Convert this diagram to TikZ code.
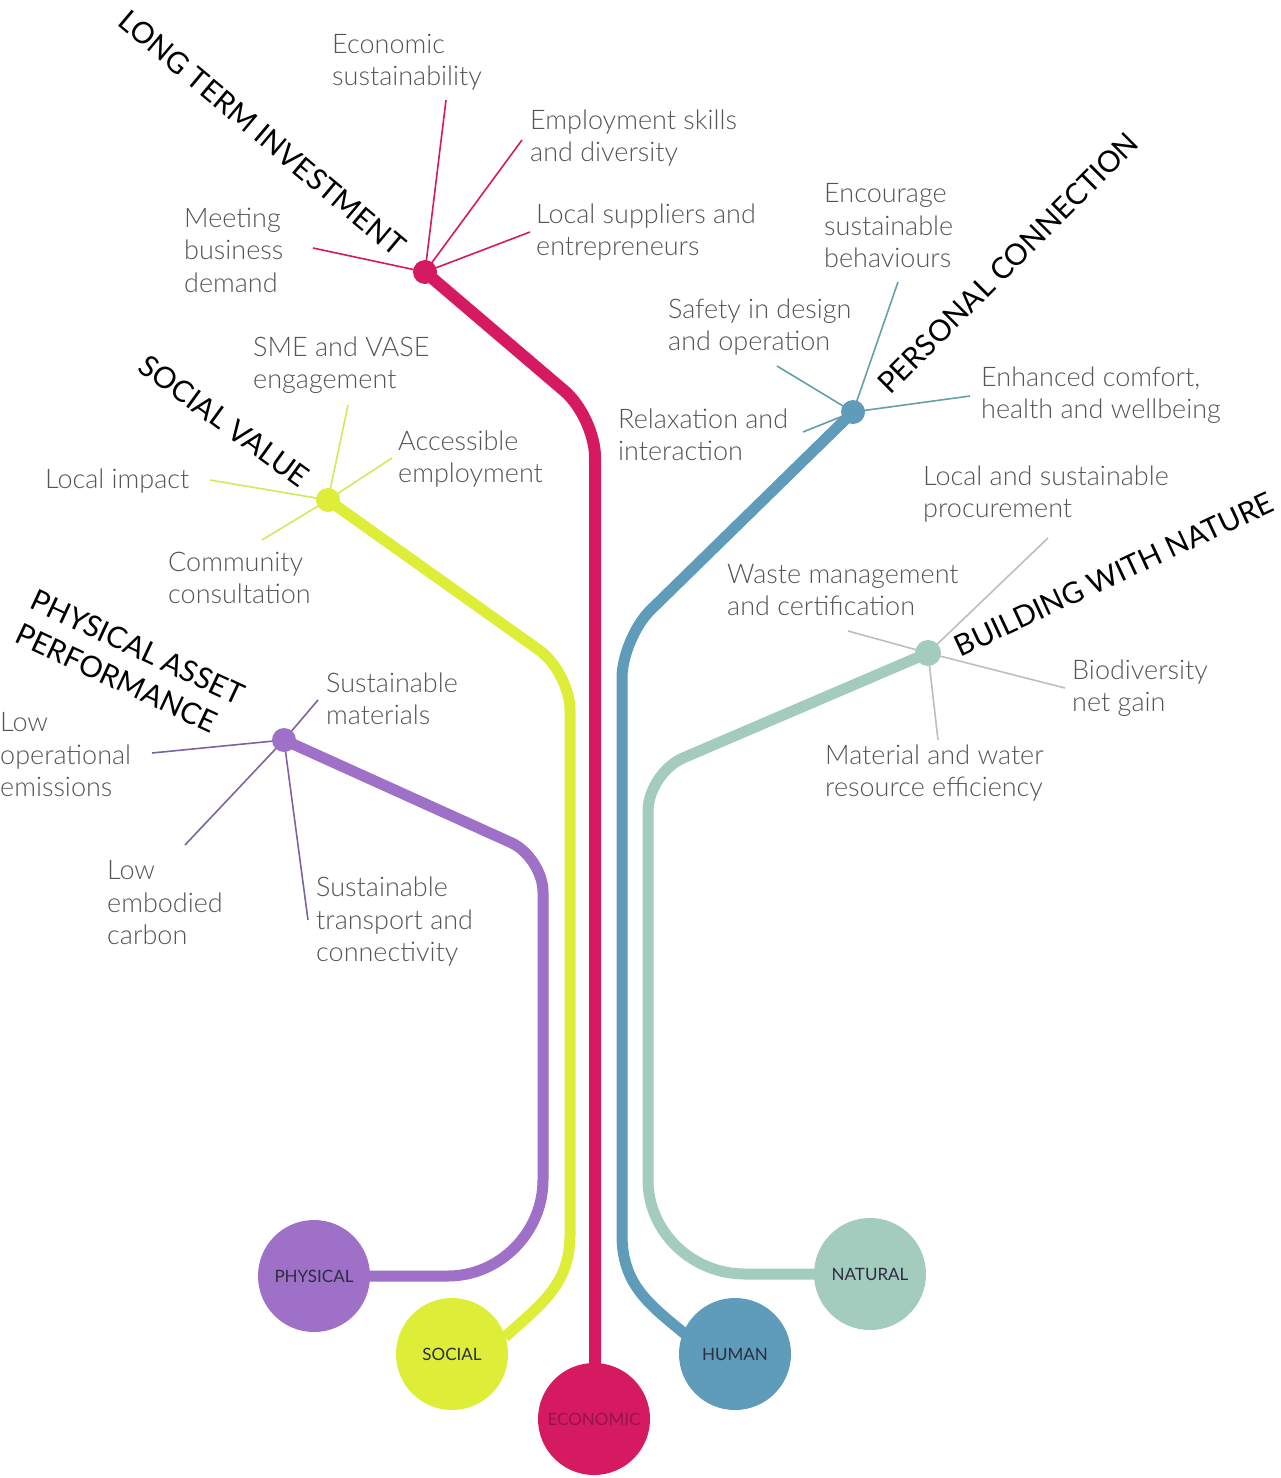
\documentclass[tikz,border=0pt]{standalone}
\usepackage{fontspec}
\setmainfont{Lato}
\IfFontExistsTF{Lato Light}{\newfontfamily\lblfont{Lato Light}}{\newfontfamily\lblfont{Lato}}
\definecolor{econ}{RGB}{214,26,98}
\definecolor{soc}{RGB}{222,238,56}
\definecolor{phys}{RGB}{158,112,200}
\definecolor{hum}{RGB}{94,156,186}
\definecolor{nat}{RGB}{164,204,190}
\definecolor{socsp}{RGB}{214,232,90}
\definecolor{physsp}{RGB}{125,100,160}
\definecolor{humsp}{RGB}{100,160,168}
\definecolor{natsp}{RGB}{185,192,192}
\definecolor{labelgray}{RGB}{85,85,85}
\definecolor{captext}{RGB}{45,45,65}
\definecolor{econtext}{RGB}{150,20,70}
\begin{document}
\begin{tikzpicture}[x=1pt,y=-1pt]
\tikzset{
 lbl/.style={font=\lblfont\fontsize{27}{32.5}\selectfont, text=labelgray, align=left, anchor=west, inner sep=0pt},
 ttl/.style={font=\fontsize{29.5}{37}\selectfont, text=black, inner sep=0pt},
 hubdot/.style={circle, fill=#1, minimum size=24pt, inner sep=0pt},
 basecirc/.style={circle, fill=#1, minimum size=112pt, inner sep=0pt, font=\fontsize{17}{19}\selectfont, text=captext},
 trunk/.style={draw=#1, line width=11pt, line join=round},
 spoke/.style={draw=#1, line width=1.6pt},
}
\fill[white] (0,0) rectangle (1280,1478);
\useasboundingbox (0,0) rectangle (1280,1478);

% base circles (positions)
\coordinate (physc) at (314,1276);
\coordinate (socc) at (452,1354);
\coordinate (ecoc) at (594,1419);
\coordinate (humc) at (735,1354);
\coordinate (natc) at (870,1274);

% hub positions
\coordinate (econh) at (425,272);
\coordinate (persh) at (853,412);
\coordinate (soch) at (328,500);
\coordinate (physh) at (284,740);
\coordinate (nath) at (928,653);

% trunks
\draw[trunk=econ, line width=12pt] (econh) -- (564.5,391) .. controls (581.3,405.3) and (595,435) .. (595,457) -- (595,1370);
\draw[trunk=phys] (physh) -- (511,842.6) .. controls (528.6,850.5) and (543,872.8) .. (543,892) -- (543,1180) .. controls (543,1232) and (500,1276) .. (448,1276) -- (physc);
\draw[trunk=soc] (soch) -- (539,650) .. controls (556,662) and (570,689) .. (570,710) -- (570,1235) .. controls (570,1285) and (540,1305) .. (505,1337);
\draw[trunk=hum] (persh) -- (650.6,610) .. controls (634.9,625.4) and (622,656) .. (622,678) -- (622,1235) .. controls (622,1285) and (650,1305) .. (685,1334);
\draw[trunk=nat] (nath) -- (683,758) .. controls (663.8,766.3) and (648,790) .. (648,811) -- (648,1180) .. controls (648,1232) and (692,1274) .. (745,1274) -- (natc);

% base circles
\node[basecirc=phys] (phys) at (physc) {PHYSICAL};
\node[basecirc=soc] (soc) at (socc) {SOCIAL};
\node[basecirc=econ, text=econtext] (eco) at (ecoc) {ECONOMIC};
\node[basecirc=hum] (hum) at (humc) {HUMAN};
\node[basecirc=nat] (nat) at (natc) {NATURAL};

% spoke ends
\coordinate (e1) at (446,100);
\coordinate (e2) at (522,140);
\coordinate (e3) at (530,232);
\coordinate (e4) at (313,248);
\coordinate (p1) at (898,282);
\coordinate (p2) at (777,366);
\coordinate (p3) at (803,432);
\coordinate (p4) at (970,396);
\coordinate (s1) at (348,405);
\coordinate (s2) at (392,458);
\coordinate (s3) at (210,480);
\coordinate (s4) at (262,540);
\coordinate (h1) at (318,700);
\coordinate (h2) at (152,753);
\coordinate (h3) at (185,845);
\coordinate (h4) at (308,920);
\coordinate (n1) at (1048,538);
\coordinate (n2) at (848,631);
\coordinate (n3) at (1065,688);
\coordinate (n4) at (938,740);

% spokes
\foreach \c in {e1,e2,e3,e4} \draw[spoke=econ] (econh) -- (\c);
\foreach \c in {p1,p2,p3,p4} \draw[spoke=humsp] (persh) -- (\c);
\foreach \c in {s1,s2,s3,s4} \draw[spoke=socsp] (soch) -- (\c);
\foreach \c in {h1,h2,h3,h4} \draw[spoke=physsp] (physh) -- (\c);
\foreach \c in {n1,n2,n3,n4} \draw[spoke=natsp] (nath) -- (\c);

% hubs
\node[hubdot=econ] (econdot) at (econh) {};
\node[hubdot=hum] (persdot) at (persh) {};
\node[hubdot=soc] (socdot) at (soch) {};
\node[hubdot=phys] (physdot) at (physh) {};
\node[hubdot=nat, minimum size=26pt] (natdot) at (nath) {};

% titles
\node[ttl, rotate=-40] (tlti) at (262,133) {LONG TERM INVESTMENT};
\node[ttl, rotate=45] (tpc) at (1008,263) {PERSONAL CONNECTION};
\node[ttl, rotate=-36] (tsv) at (224,421) {SOCIAL VALUE};
\node[ttl, rotate=-25, align=left] (tpap) at (130,664) {PHYSICAL ASSET\\PERFORMANCE};
\node[ttl, rotate=25] (tbwn) at (1114,574) {BUILDING WITH NATURE};

% labels
\node[lbl] (l1) at (332,62) {Economic\\sustainability};
\node[lbl] (l2) at (530,138) {Employment skills\\and diversity};
\node[lbl] (l3) at (536,232) {Local suppliers and\\entrepreneurs};
\node[lbl] (l4) at (184,250) {Meeting\\business\\demand};
\node[lbl] (l5) at (824,226) {Encourage\\sustainable\\behaviours};
\node[lbl] (l6) at (668,327) {Safety in design\\and operation};
\node[lbl] (l7) at (618,435) {Relaxation and\\interaction};
\node[lbl] (l8) at (981,395) {Enhanced comfort,\\health and wellbeing};
\node[lbl] (l9) at (253,365) {SME and VASE\\engagement};
\node[lbl] (l10) at (398,459) {Accessible\\employment};
\node[lbl] (l11) at (45,481) {Local impact};
\node[lbl] (l12) at (168,578) {Community\\consultation};
\node[lbl] (l13) at (326,699) {Sustainable\\materials};
\node[lbl] (l14) at (0,755) {Low\\operational\\emissions};
\node[lbl] (l15) at (107,903) {Low\\embodied\\carbon};
\node[lbl] (l16) at (316,922) {Sustainable\\transport and\\connectivity};
\node[lbl] (l17) at (923,494) {Local and sustainable\\procurement};
\node[lbl] (l18) at (727,590) {Waste management\\and certification};
\node[lbl] (l19) at (1072,688) {Biodiversity\\net gain};
\node[lbl] (l20) at (825,773) {Material and water\\resource efficiency};
\end{tikzpicture}
\end{document}
